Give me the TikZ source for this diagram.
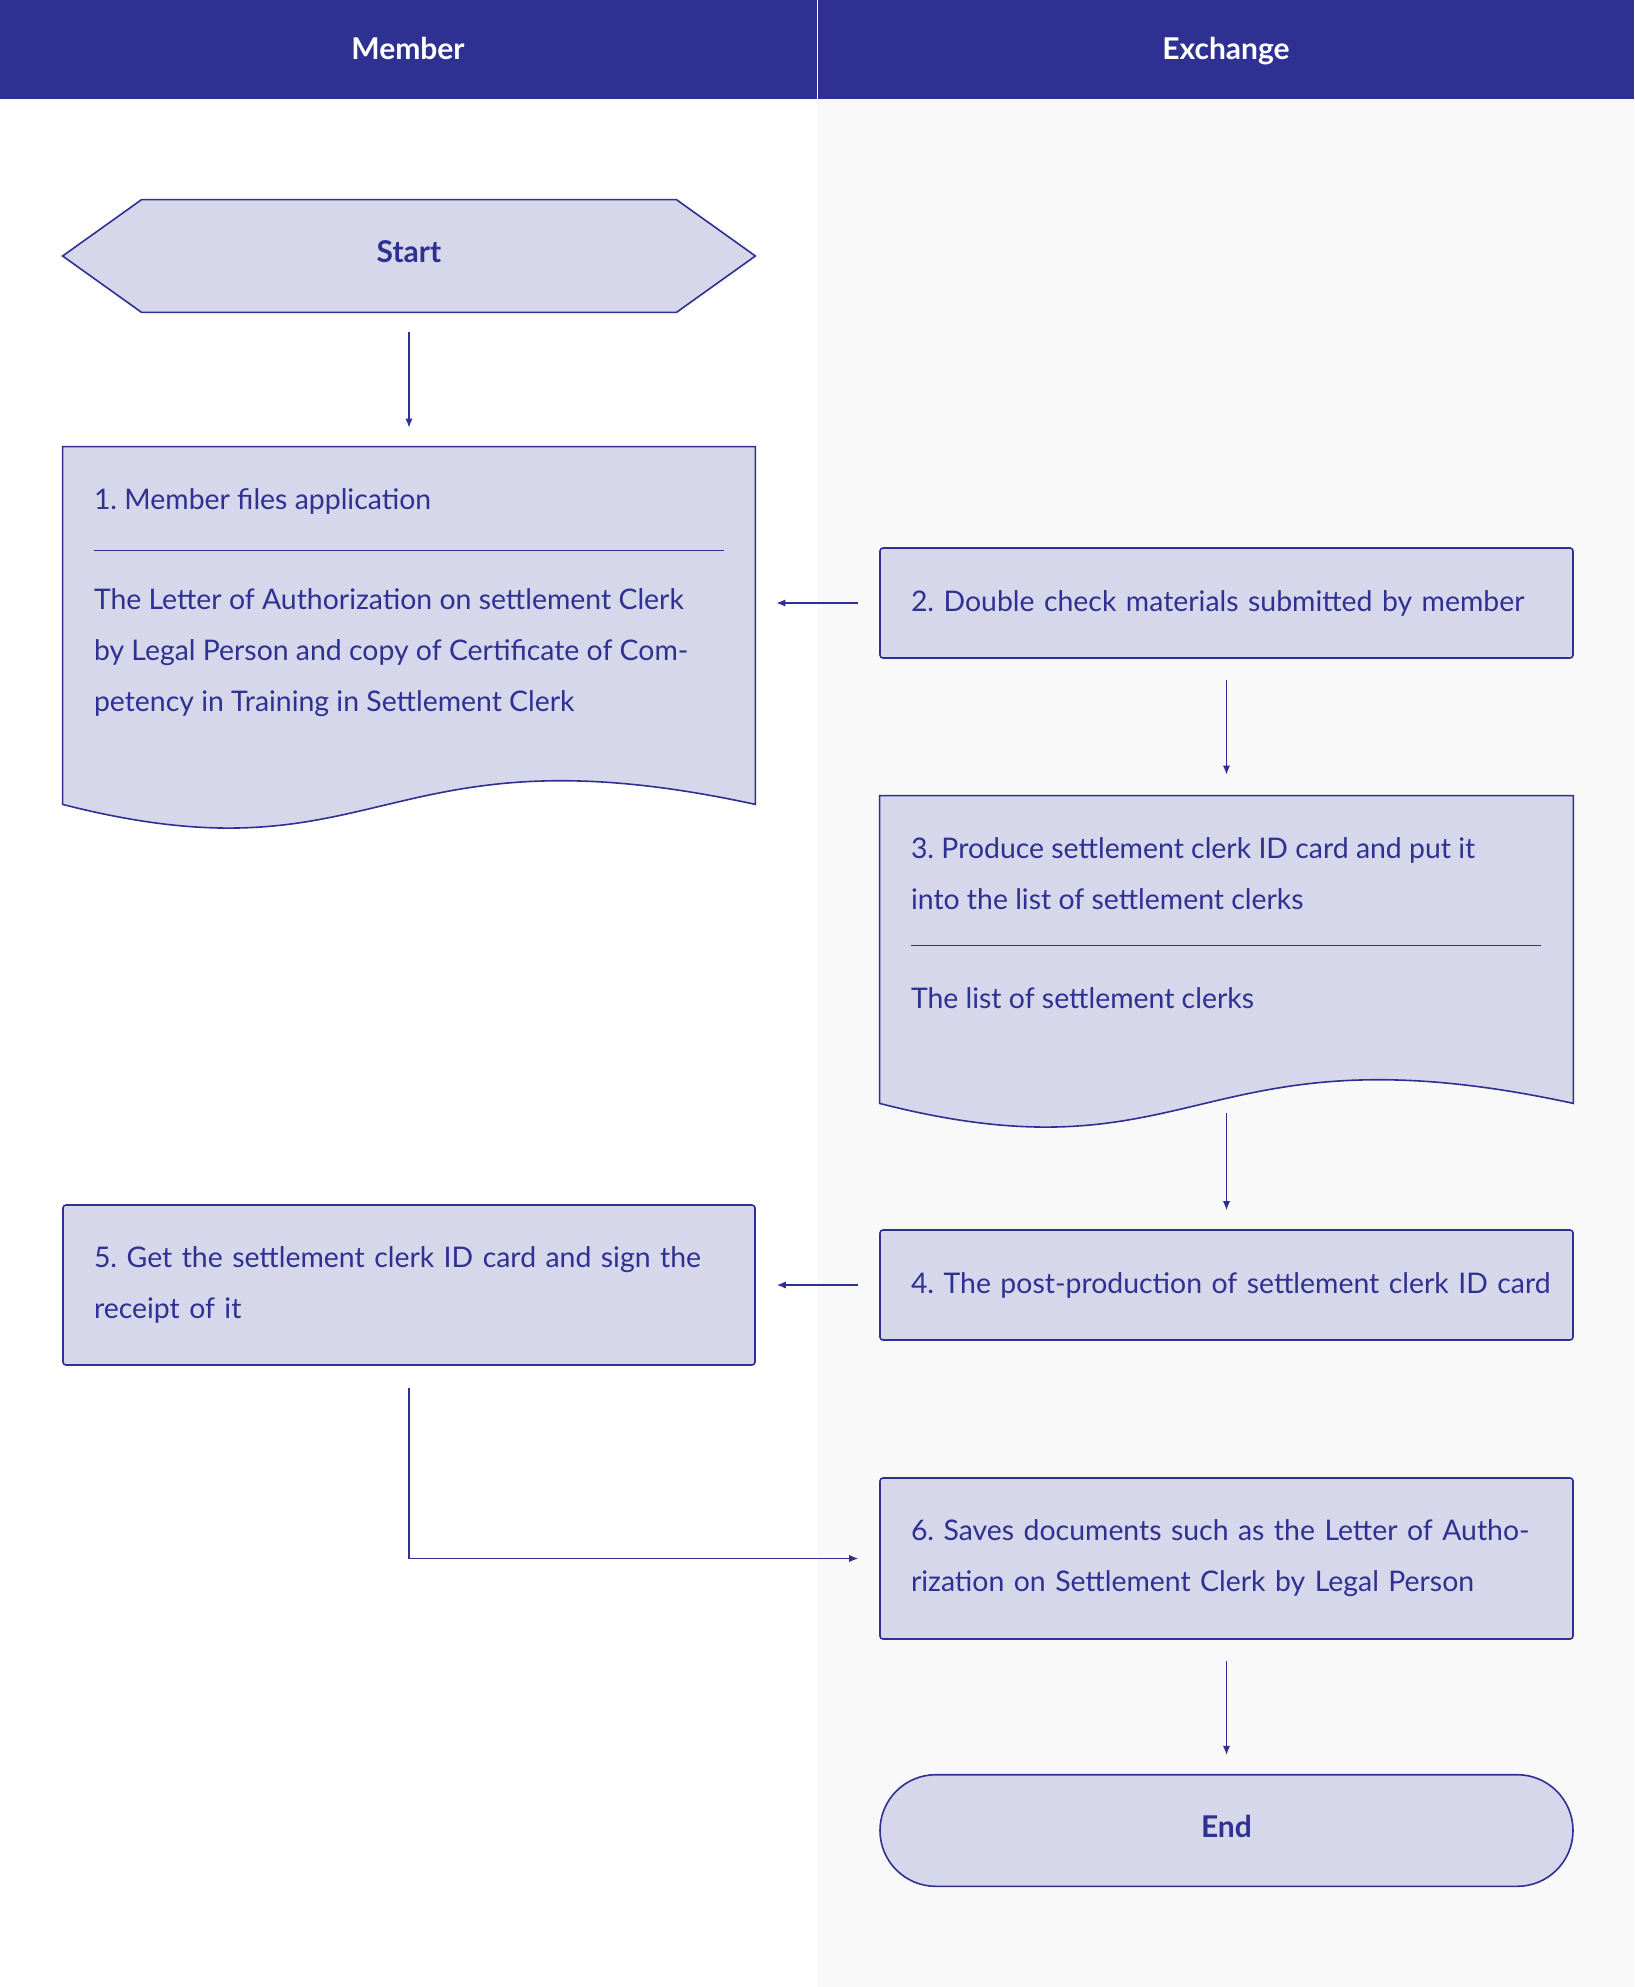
\documentclass[tikz,border=0pt]{standalone}
\usepackage{fontspec}
\setmainfont{Lato}
\usepackage{tikz}
\usetikzlibrary{arrows.meta,positioning,calc,backgrounds}
\definecolor{FlowBlue}{RGB}{46,49,146}
\definecolor{BoxFill}{RGB}{214,215,235}
\definecolor{LaneGray}{RGB}{249,249,250}

\tikzset{
  lanehead/.style={anchor=base, text=white, font=\fontsize{15}{18}\selectfont\bfseries, inner sep=0pt},
  frame/.style={inner sep=0pt, text=FlowBlue, text height=11pt, text depth=4.5pt, font=\fontsize{15}{18}\selectfont\bfseries},
  shapeline/.style={draw=FlowBlue, fill=BoxFill, line width=0.8pt},
  procbox/.style={shapeline, rounded corners=1.5pt, minimum width=346.5pt, text width=315.5pt,
    inner xsep=15.5pt, inner ysep=0pt, align=left, text=FlowBlue, font=\fontsize{14.2}{25.5}\selectfont\frenchspacing},
  doctext/.style={anchor=base west, inner sep=0pt, align=left, text=FlowBlue, font=\fontsize{14.2}{25.5}\selectfont\frenchspacing},
  flow/.style={-{Latex[length=4.5pt,width=3.6pt]}, FlowBlue, line width=0.6pt}
}

\begin{document}
\begin{tikzpicture}[x=0.5pt, y=-0.5pt]
        \useasboundingbox (0,0) rectangle (1634,1987);
        \node[lanehead] (member) at (408,59) {Member};
        \node[lanehead] (exchange) at (1226,59) {Exchange};
        \node[frame, minimum width=346pt, minimum height=56pt] (start) at (409,256) {Start};
        \node[frame, minimum width=346pt, minimum height=178.5pt] (d1) at (409,625.5) {};
        \node[frame, minimum width=346.5pt, minimum height=153.5pt] (d3) at (1226.5,949.5) {};
        \begin{scope}[on background layer]
          \fill[LaneGray] (817,99) rectangle (1634,1987);
          \fill[FlowBlue] (0,0) rectangle (1634,99);
          \draw[white, line width=0.5pt] (817,0) -- (817,99);
          \filldraw[shapeline] (start.west) -- ($(start.north west)+(79,0)$) -- ($(start.north east)+(-79,0)$)
            -- (start.east) -- ($(start.south east)+(-79,0)$) -- ($(start.south west)+(79,0)$) -- cycle;
          \filldraw[shapeline] (d1.north west) -- (d1.north east) -- (d1.south east)
            .. controls ($(d1.south west)+(316,-82)$) and ($(d1.south west)+(320,82)$) .. (d1.south west) -- cycle;
          \filldraw[shapeline] (d3.north west) -- (d3.north east) -- (d3.south east)
            .. controls ($(d3.south west)+(316,-82)$) and ($(d3.south west)+(320,82)$) .. (d3.south west) -- cycle;
          \draw[FlowBlue, line width=0.6pt] ($(d1.north west)+(31,104)$) -- ($(d1.north east)+(-31,104)$);
          \draw[FlowBlue, line width=0.6pt] ($(d3.north west)+(31,150)$) -- ($(d3.north east)+(-32,150)$);
        \end{scope}
        \node[doctext] (d1head) at ($(d1.north west)+(31,63)$) {1. Member files application};
        \node[doctext] (d1body) at ($(d1.north west)+(31,265)$) {The Letter of Authorization on settlement Clerk\\by Legal Person and copy of Certificate of Com-\\petency in Training in Settlement Clerk};
        \node[doctext] (d3head) at ($(d3.north west)+(31,113.5)$) {3. Produce settlement clerk ID card and put it\\into the list of settlement clerks};
        \node[doctext] (d3body) at ($(d3.north west)+(31,213)$) {The list of settlement clerks};
        \node[procbox, minimum height=55pt] (s2) at (1226.5,603) {2. Double check materials submitted by member};
        \node[procbox, minimum height=55pt] (s4) at (1226.5,1285) {\mbox{4. The post-production of settlement clerk ID card}};
        \node[procbox, minimum width=346pt, text width=315pt, minimum height=80pt] (s5) at (409,1285) {5. Get the settlement clerk ID card and sign the\\receipt of it};
        \node[procbox, minimum height=80.5pt] (s6) at (1226.5,1558.5) {6. Saves documents such as the Letter of Autho-\\rization on Settlement Clerk by Legal Person};
        \node[procbox, rounded corners=27.9pt, minimum height=55.8pt, align=center, text height=11pt, text depth=4.5pt, font=\fontsize{15}{18}\selectfont\bfseries] (end) at (1226.5,1830.5) {End};
        \draw[flow, shorten <=10pt, shorten >=9.5pt] (start) -- (d1);
        \draw[flow, shorten <=10.5pt, shorten >=10.5pt] (s2.west) -- (s2.west -| d1.east);
        \draw[flow, shorten <=10.5pt, shorten >=10.5pt] (s2) -- (d3);
        \draw[flow, shorten <=5pt, shorten >=9.5pt] (d3) -- (s4);
        \draw[flow, shorten <=10.5pt, shorten >=10.5pt] (s4) -- (s5);
        \draw[flow, shorten <=11pt, shorten >=10.5pt] (s5.south) |- (s6.west);
        \draw[flow, shorten <=10.5pt, shorten >=9.5pt] (s6) -- (end);
      \end{tikzpicture}
\end{document}
